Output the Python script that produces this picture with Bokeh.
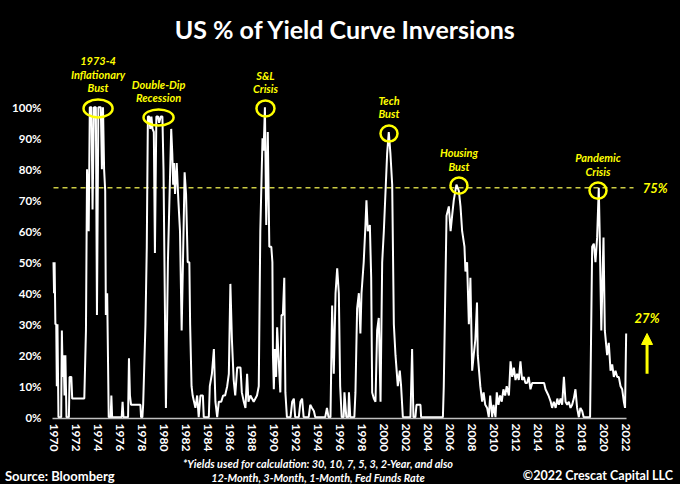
from bokeh.plotting import figure
from bokeh.layouts import column
from bokeh.models import Range1d, FixedTicker, PrintfTickFormatter, Label, Arrow, NormalHead, Div
from bokeh.core.properties import value
from bokeh.embed import file_html
from bokeh.resources import INLINE

# ---- data ----
years = [
    1970.00, 1970.05, 1970.10, 1970.17, 1970.25, 1970.30, 1970.36, 1970.45, 1970.70, 1970.76,
    1970.84, 1970.92, 1971.00, 1971.08, 1971.18, 1971.40, 1971.46, 1971.62, 1971.70, 1972.00,
    1972.40, 1972.80, 1972.95, 1973.05, 1973.20, 1973.30, 1973.45, 1973.55, 1973.68, 1973.85,
    1973.95, 1974.08, 1974.30, 1974.40, 1974.50, 1974.60, 1974.70, 1974.76, 1974.88, 1975.02,
    1975.20, 1975.26, 1975.33, 1976.20, 1976.28, 1976.36, 1976.78, 1976.86, 1976.95, 1977.05,
    1977.90, 1977.96, 1978.08, 1978.15, 1978.36, 1978.48, 1978.58, 1978.70, 1978.80, 1978.90,
    1979.00, 1979.12, 1979.22, 1979.35, 1979.50, 1979.60, 1979.75, 1979.90, 1980.00, 1980.22,
    1980.40, 1980.70, 1980.80, 1980.88, 1980.95, 1981.05, 1981.20, 1981.35, 1981.50, 1981.65,
    1981.78, 1981.92, 1982.05, 1982.20, 1982.35, 1982.42, 1982.55, 1982.65, 1982.90, 1983.06,
    1983.20, 1983.36, 1983.58, 1983.66, 1984.12, 1984.21, 1984.40, 1984.58, 1984.72, 1984.88,
    1985.03, 1985.25, 1985.42, 1985.60, 1985.79, 1985.94, 1986.08, 1986.22, 1986.38, 1986.52,
    1986.70, 1987.00, 1987.12, 1987.30, 1987.45, 1987.60, 1987.72, 1987.90, 1988.20, 1988.50,
    1988.66, 1988.80, 1989.00, 1989.10, 1989.22, 1989.34, 1989.48, 1989.62, 1989.80, 1989.90,
    1989.95, 1990.03, 1990.12, 1990.24, 1990.33, 1990.48, 1990.62, 1990.73, 1990.85, 1990.98,
    1991.08, 1991.22, 1991.55, 1991.70, 1991.85, 1991.97, 1992.30, 1992.45, 1992.60, 1992.74,
    1993.20, 1993.34, 1993.50, 1993.67, 1993.80, 1994.70, 1994.86, 1995.00, 1995.18, 1995.33,
    1995.48, 1995.64, 1995.79, 1995.94, 1996.06, 1996.20, 1996.38, 1996.45, 1996.62, 1996.80,
    1996.86, 1996.98, 1997.35, 1997.45, 1997.60, 1997.76, 1997.90, 1998.00, 1998.20, 1998.36,
    1998.45, 1998.57, 1998.76, 1998.88, 1998.97, 1999.12, 1999.27, 1999.42, 1999.57, 1999.73,
    1999.88, 2000.03, 2000.33, 2000.48, 2000.63, 2000.79, 2000.94, 2001.09, 2001.30, 2001.48,
    2001.60, 2001.76, 2002.30, 2002.45, 2002.60, 2002.72, 2002.90, 2003.00, 2003.36, 2003.42,
    2005.40, 2005.48, 2005.73, 2005.94, 2006.10, 2006.24, 2006.39, 2006.63, 2006.85, 2007.00,
    2007.15, 2007.36, 2007.45, 2007.60, 2007.76, 2007.90, 2008.06, 2008.20, 2008.35, 2008.50,
    2008.57, 2008.80, 2008.97, 2009.10, 2009.25, 2009.42, 2009.57, 2009.70, 2009.88, 2010.00,
    2010.18, 2010.30, 2010.45, 2010.60, 2010.75, 2010.90, 2011.06, 2011.20, 2011.40, 2011.55,
    2011.70, 2011.85, 2012.00, 2012.15, 2012.30, 2012.45, 2012.60, 2012.76, 2012.90, 2013.05,
    2013.20, 2013.36, 2013.52, 2014.60, 2014.73, 2015.00, 2015.20, 2015.33, 2015.48, 2015.65,
    2015.80, 2015.94, 2016.10, 2016.24, 2016.40, 2016.55, 2016.70, 2016.85, 2017.00, 2017.15,
    2017.30, 2017.45, 2017.60, 2017.76, 2017.90, 2018.06, 2018.20, 2018.36, 2018.55, 2018.78,
    2018.85, 2018.97, 2019.12, 2019.27, 2019.42, 2019.57, 2019.65, 2019.80, 2020.00, 2020.12,
    2020.33, 2020.48, 2020.64, 2020.79, 2020.94, 2021.09, 2021.25, 2021.39, 2021.55, 2021.70,
    2021.85, 2021.96, 2022.06,
]
pct_inverted = [
    50, 40, 50, 30, 30, 10, 30, 0, 0, 28,
    13, 20, 7, 20, 0, 0, 13, 13, 6, 6,
    6, 6, 28, 80, 60, 100, 100, 67, 100, 100,
    33, 100, 100, 80, 100, 80, 73, 33, 40, 0,
    0, 7, 0, 0, 5, 0, 0, 19, 7, 4,
    4, 0, 0, 4, 30, 55, 97, 97, 93, 97,
    93, 92, 53, 97, 97, 95, 97, 97, 80, 3,
    50, 93, 85, 75, 82, 72, 82, 70, 60, 28,
    52, 79, 72, 50, 50, 30, 10, 7, 3, 7,
    0, 7, 7, 0, 0, 10, 14, 22, 5, 0,
    5, 5, 7, 7, 10, 14, 43, 25, 12, 7,
    16, 16, 8, 5, 3, 14, 5, 7, 5, 7,
    10, 60, 90, 86, 100, 62, 92, 55, 55, 50,
    20, 9, 22, 13, 29, 18, 8, 33, 33, 45,
    8, 0, 0, 5, 6, 0, 0, 5, 6, 0,
    0, 4, 3, 2, 0, 0, 3, 0, 0, 36,
    14, 40, 48, 40, 10, 0, 0, 8, 0, 0,
    8, 0, 0, 8, 35, 40, 27, 40, 50, 62,
    70, 60, 62, 45, 8, 6, 5, 28, 32, 5,
    50, 60, 85, 92, 85, 75, 30, 20, 10, 15,
    10, 0, 0, 0, 22, 0, 0, 4, 4, 0,
    0, 10, 65, 68, 60, 65, 70, 75, 73, 68,
    60, 55, 47, 50, 30, 45, 15, 20, 25, 37,
    20, 10, 5, 8, 4, 3, 0, 7, 0, 4,
    0, 8, 4, 7, 5, 9, 7, 10, 7, 18,
    13, 16, 12, 14, 12, 18, 12, 13, 11, 11,
    13, 9, 11, 11, 9, 7, 5, 3, 5, 3,
    6, 4, 6, 4, 13, 5, 4, 5, 3, 4,
    6, 9, 3, 0, 3, 2, 0, 0, 0, 0,
    20, 55, 56, 50, 58, 74, 60, 28, 58, 28,
    20, 24, 15, 17, 13, 15, 13, 13, 10, 9,
    5, 3, 27,
]
x_ticks = list(range(1970, 2023, 2))
y_ticks = list(range(0, 101, 10))

threshold_level = 74
threshold_label = "75%"
latest_label = "27%"

event_names = ["1973-4\nInflationary\nBust", "Double-Dip\nRecession", "S&L\nCrisis",
               "Tech\nBust", "Housing\nBust", "Pandemic\nCrisis"]
event_x = [1974.05, 1979.55, 1989.27, 2000.5, 2006.86, 2019.5]
event_y = [99.6, 96.7, 99.6, 91.5, 74.7, 73.1]
event_w = [2.64, 2.73, 1.64, 1.55, 1.55, 1.55]
event_h = [5.8, 5.2, 5.2, 5.2, 5.2, 5.2]

title_text = "US % of Yield Curve Inversions"
source_text = "Source: Bloomberg"
note_lines = ["*Yields used for calculation: 30, 10, 7, 5, 3, 2-Year, and also",
              "12-Month, 3-Month, 1-Month, Fed Funds Rate"]
credit_text = "\u00a92022 Crescat Capital LLC"

# ---- style ----
FONT = "Lato"
YELLOW = "#ffff00"
W = 680
H_MAIN = 455
H_FOOT = 29

p = figure(width=W, height=H_MAIN, output_backend="svg", toolbar_location=None,
           x_range=Range1d(1969.727, 2027.0), y_range=Range1d(-0.42, 134.42),
           min_border_left=50, min_border_right=0, min_border_top=0,
           min_border_bottom=H_MAIN - 418)
p.background_fill_color = "black"
p.border_fill_color = "black"
p.outline_line_color = None
p.grid.visible = False

# axes
p.xaxis.ticker = FixedTicker(ticks=x_ticks)
p.xaxis.major_label_orientation = "vertical"
p.xaxis.major_label_text_color = "white"
p.xaxis.major_label_text_font = FONT
p.xaxis.major_label_text_font_style = "bold"
p.xaxis.major_label_text_font_size = "12px"
p.xaxis.major_label_standoff = 5
p.xaxis.major_tick_out = 0
p.xaxis.major_tick_in = 0
p.xaxis.minor_tick_out = 0
p.xaxis.minor_tick_in = 0
p.xaxis.major_tick_line_color = None
p.xaxis.minor_tick_line_color = None
p.xaxis.axis_line_color = "#bfbfbf"
p.xaxis.axis_line_width = 1.5
p.xaxis.bounds = (years[0] - 0.1, years[-1] + 0.05)

p.yaxis.ticker = FixedTicker(ticks=y_ticks)
p.yaxis.formatter = PrintfTickFormatter(format="%d%%")
p.yaxis.major_label_text_color = "white"
p.yaxis.major_label_text_font = FONT
p.yaxis.major_label_text_font_style = "bold"
p.yaxis.major_label_text_font_size = "11.5px"
p.yaxis.major_label_standoff = 9
p.yaxis.major_tick_out = 0
p.yaxis.major_tick_in = 0
p.yaxis.minor_tick_out = 0
p.yaxis.minor_tick_in = 0
p.yaxis.major_tick_line_color = None
p.yaxis.minor_tick_line_color = None
p.yaxis.axis_line_color = None

# threshold dashed line
p.line([years[0], years[-1] + 0.67], [threshold_level, threshold_level],
       line_color="#cccc44", line_width=1.5, line_dash="5 4")
p.text([years[-1] + 1.5], [threshold_level], text=[threshold_label], text_align="left",
       text_baseline="middle", text_color=YELLOW, text_font=value(FONT),
       text_font_style="bold italic", text_font_size="13px")

# series
p.line(years, pct_inverted, line_color="white", line_width=2)

# event circles + labels
p.ellipse(x=event_x, y=event_y, width=event_w, height=event_h,
          fill_color=None, line_color=YELLOW, line_width=2.5)
p.text(x=event_x, y=[y + h / 2 for y, h in zip(event_y, event_h)], text=event_names,
       text_align="center", text_baseline="bottom", y_offset=-5,
       text_color=YELLOW, text_font=value(FONT), text_font_style="bold italic",
       text_font_size="11px", text_line_height=1.05)

# latest value arrow
ax = years[-1] + 1.9
last = pct_inverted[-1]
p.add_layout(Arrow(end=NormalHead(size=11, fill_color=YELLOW, line_color=YELLOW),
                   x_start=ax, y_start=last - 13, x_end=ax, y_end=last,
                   line_color=YELLOW, line_width=3))
p.text([ax], [last], text=[latest_label], text_align="center", text_baseline="bottom",
       y_offset=-7, text_color=YELLOW, text_font=value(FONT),
       text_font_style="bold italic", text_font_size="13px")

# title (screen units relative to the plot frame)
p.add_layout(Label(x=295, y=390, x_units="screen", y_units="screen", text=title_text,
                   text_align="center", text_baseline="middle", text_color="white",
                   text_font=FONT, text_font_style="bold", text_font_size="25px"))

# ---- footer strip (HTML text) ----
footer_html = (
    f'<div style="position:relative;width:{W}px;height:{H_FOOT}px;background:#000;'
    f'color:#fff;font-family:Lato;font-weight:bold;">'
    f'<div style="position:absolute;left:5px;top:13px;font-size:13px;line-height:16px;'
    f'white-space:nowrap;">{source_text}</div>'
    f'<div style="position:absolute;right:7px;top:13px;font-size:12.5px;line-height:16px;'
    f'white-space:nowrap;">{credit_text}</div>'
    f'<div style="position:absolute;left:118px;width:400px;top:2px;text-align:center;'
    f'font-style:italic;font-size:10.9px;line-height:14px;white-space:nowrap;">'
    f'{note_lines[0]}<br>{note_lines[1]}</div>'
    f'</div>'
)
footer = Div(text=footer_html, width=W, height=H_FOOT,
             styles={"background-color": "#000000", "margin": "0", "padding": "0"})

layout = column(p, footer, spacing=0)
html = file_html(layout, INLINE)
html = html.replace("<body>", '<body style="background-color:#000000;">')
open("out.html", "w").write(html)
